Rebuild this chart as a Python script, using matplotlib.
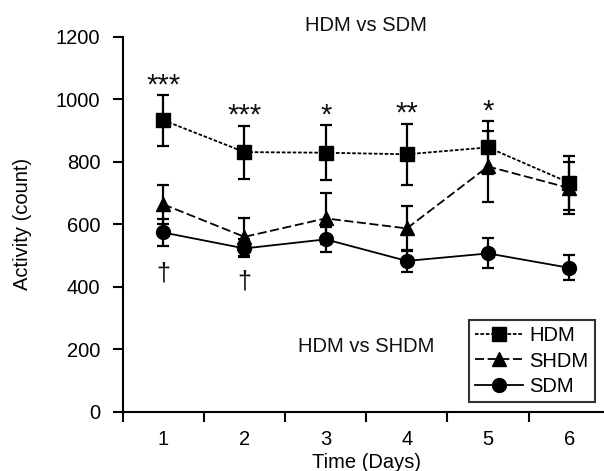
import matplotlib
matplotlib.use("Agg")
import matplotlib.pyplot as plt
from matplotlib.lines import Line2D
import numpy as np

plt.rcParams['font.family'] = ['Liberation Sans', 'DejaVu Sans']

# data
days = [1, 2, 3, 4, 5, 6]
hdm = [933, 831, 829, 824, 846, 733]
hdm_err = [82, 85, 88, 97, 85, 87]
shdm = [664, 560, 619, 587, 785, 716]
shdm_err = [63, 61, 82, 71, 113, 82]
sdm = [574, 523, 552, 483, 507, 461]
sdm_err = [44, 29, 40, 35, 48, 40]

stars = ['***', '***', '*', '**', '*', '']
star_y = [1000, 903, 903, 908, 917, 0]
daggers = ['\u2020', '\u2020', '', '', '', '']
dagger_y = [444, 416, 0, 0, 0, 0]

series = [
    ('HDM', hdm, hdm_err, 's', (0, (2, 1))),
    ('SHDM', shdm, shdm_err, '^', (0, (5, 2))),
    ('SDM', sdm, sdm_err, 'o', '-'),
]

fig = plt.figure(figsize=(6.04, 4.71), dpi=100)
ax = fig.add_axes([0.2031, 0.1253, 0.8066, 0.7968])

fs = 14.5
handles = []
for name, vals, err, mk, ls in series:
    ax.errorbar(days, vals, yerr=err, color='black', marker=mk, markersize=10,
                linestyle=ls, linewidth=1.3, capsize=4.5, elinewidth=1.6,
                capthick=1.6, zorder=3)
    handles.append(Line2D([], [], color='black', marker=mk, markersize=10,
                          linestyle=ls, linewidth=1.3, label=name))

for d, s, y in zip(days, stars, star_y):
    if s:
        ax.text(d, y, s, ha='center', va='bottom', fontsize=21, color='#111111')
for d, s, y in zip(days, daggers, dagger_y):
    if s:
        ax.text(d, y, s, ha='center', va='center', fontsize=18, color='#111111')

ax.text(3.5, 1236, 'HDM vs SDM', ha='center', va='center', fontsize=fs,
        color='#111111', clip_on=False)
ax.text(3.5, 209, 'HDM vs SHDM', ha='center', va='center', fontsize=fs,
        color='#111111')

ax.set_xlim(0.5, 6.5)
ax.set_ylim(0, 1200)
ax.set_yticks([0, 200, 400, 600, 800, 1000, 1200])
ax.set_xticks(np.arange(0.5, 7, 1))
ax.set_xticklabels([])
ax.set_xticks(days, minor=True)
ax.set_xticklabels([str(d) for d in days], minor=True)
ax.tick_params(axis='x', which='minor', length=0, pad=13, labelsize=fs)
ax.tick_params(axis='x', which='major', length=7, width=1.5, direction='out')
ax.tick_params(axis='y', length=7, width=1.5, direction='out', pad=9, labelsize=fs)

for side in ['top', 'right']:
    ax.spines[side].set_visible(False)
for side in ['left', 'bottom']:
    ax.spines[side].set_linewidth(1.5)

ax.set_xlabel('Time (Days)', fontsize=fs, labelpad=3)
ax.set_ylabel('Activity (count)', fontsize=fs, labelpad=17)

leg = ax.legend(handles=handles, loc='lower left',
                bbox_to_anchor=(469 / 604, 69 / 471),
                bbox_transform=fig.transFigure, fontsize=fs, frameon=True,
                fancybox=False, edgecolor='black', handlelength=2.4,
                handletextpad=0.3, labelspacing=0.32, borderpad=0.3,
                borderaxespad=0)
leg.get_frame().set_linewidth(1.5)

fig.savefig('out.png', dpi=100)
